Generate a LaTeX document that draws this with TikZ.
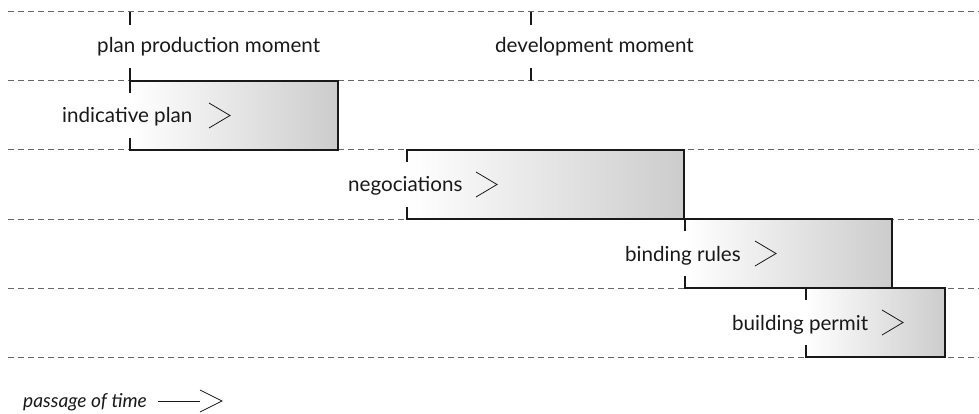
\documentclass[tikz,border=0pt]{standalone}
\usepackage{fontspec}
\setmainfont{Lato}
\begin{document}
\begin{tikzpicture}[x=1pt,y=-1pt,
  guide/.style={draw=black!60, line width=1pt, dash pattern=on 6pt off 4pt},
  edge/.style={draw=black!90, line width=1.6pt},
  phase/.style={rectangle, minimum width=#1, minimum height=69pt, inner sep=0pt, outer sep=0pt,
    anchor=north west, left color=white, right color=black!20, draw=none},
  lbl/.style={anchor=base west, inner sep=0pt, font=\fontsize{20.6}{24}\selectfont, text=black!90},
  chev/.style={draw=black!90, line width=0.8pt, line join=miter},
]
\useasboundingbox (0,0) rectangle (979,414);

% horizontal guides
\foreach \y in {12,81,150,219,288,357}
  \draw[guide] (8,\y) -- (979,\y);

% time markers
\coordinate (m1t) at (130,12);
\coordinate (m1b) at (130,81);
\coordinate (m2t) at (531,12);
\coordinate (m2b) at (531,81);
\node[lbl] (m1) at (97,53) {plan production moment};
\node[lbl] (m2) at (495,53) {development moment};
\draw[edge] (m1t) -- ++(0,13);
\draw[edge] (m1b) -- ++(0,-13);
\draw[edge] (m2t) -- ++(0,13);
\draw[edge] (m2b) -- ++(0,-13);

% phases
\node[phase=208pt] (ip) at (130,81) {};
\node[phase=277pt] (ng) at (407,150) {};
\node[phase=207pt] (br) at (685,219) {};
\node[phase=139pt] (bp) at (806,288) {};

\foreach \b in {ip,ng,br,bp}
  \draw[edge] ([yshift=-12pt]\b.north west) -- (\b.north west) -- (\b.north east)
    -- (\b.south east) -- (\b.south west) -- ([yshift=12pt]\b.south west);

% phase labels with direction marks
\node[lbl] (ipt) at (62,123) {indicative plan};
\node[lbl] (ngt) at (348,192) {negociations};
\node[lbl] (brt) at (625,261) {binding rules};
\node[lbl] (bpt) at (732,330) {building permit};
\draw[chev] (209,103) -- (230,115.5) -- (209,128);
\draw[chev] (476,172) -- (497,184.5) -- (476,197);
\draw[chev] (755,241) -- (776,253.5) -- (755,266);
\draw[chev] (882,310) -- (903,322.5) -- (882,335);

% time direction
\node[lbl, font=\fontsize{19.2}{22}\selectfont\itshape] (pt) at (23,407) {passage of time};
\coordinate (pa) at (158,401);
\coordinate (pb) at (200,401);
\draw[chev] (pa) -- (pb);
\draw[chev] (200,390) -- (222,401) -- (200,412);
\end{tikzpicture}
\end{document}
